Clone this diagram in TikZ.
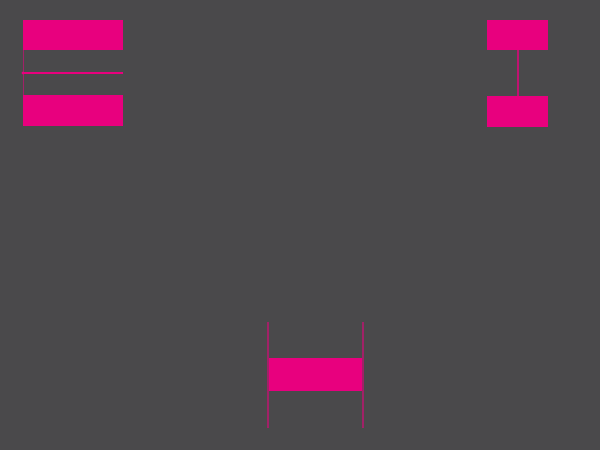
\documentclass[tikz,border=0pt]{standalone}
\begin{document}
\begin{tikzpicture}[x=1pt,y=-1pt,
  box/.style={fill=boxpink,draw=none,inner sep=0pt,outer sep=0pt,minimum width=#1,minimum height=30pt,anchor=north west},
  link/.style={draw=boxpink,line width=1.3pt},
  dimlink/.style={draw=boxpink!55!bgc,line width=1.3pt}]
\definecolor{bgc}{HTML}{4A494B}
\definecolor{boxpink}{HTML}{E8007E}
\fill[bgc] (0,0) rectangle (600,450);
\useasboundingbox (0,0) rectangle (600,450);
% left pair
\node[box=100pt] (a) at (23,20) {};
\node[box=100pt,minimum height=31pt] (b) at (23,95) {};
\coordinate (lm) at (23,73);
\coordinate (rm) at (123,73);
\draw[dimlink,line width=0.9pt] (a.south west) -- (b.north west);
\draw[link] (lm) -- (rm);
\fill[boxpink] (lm) circle (1.6pt);
% right pair
\node[box=61pt] (c) at (487,20) {};
\node[box=61pt,minimum height=31pt] (d) at (487,96) {};
\draw[link,line width=2pt,draw=boxpink!75!bgc] (c.south) -- (d.north);
% bottom box
\node[box=95pt,minimum height=33pt] (e) at (268,358) {};
\coordinate (e1) at (268,322);
\coordinate (e2) at (268,428);
\coordinate (e3) at (363,322);
\coordinate (e4) at (363,428);
\draw[dimlink] (e1) -- (e2);
\draw[dimlink] (e3) -- (e4);
\end{tikzpicture}
\end{document}
